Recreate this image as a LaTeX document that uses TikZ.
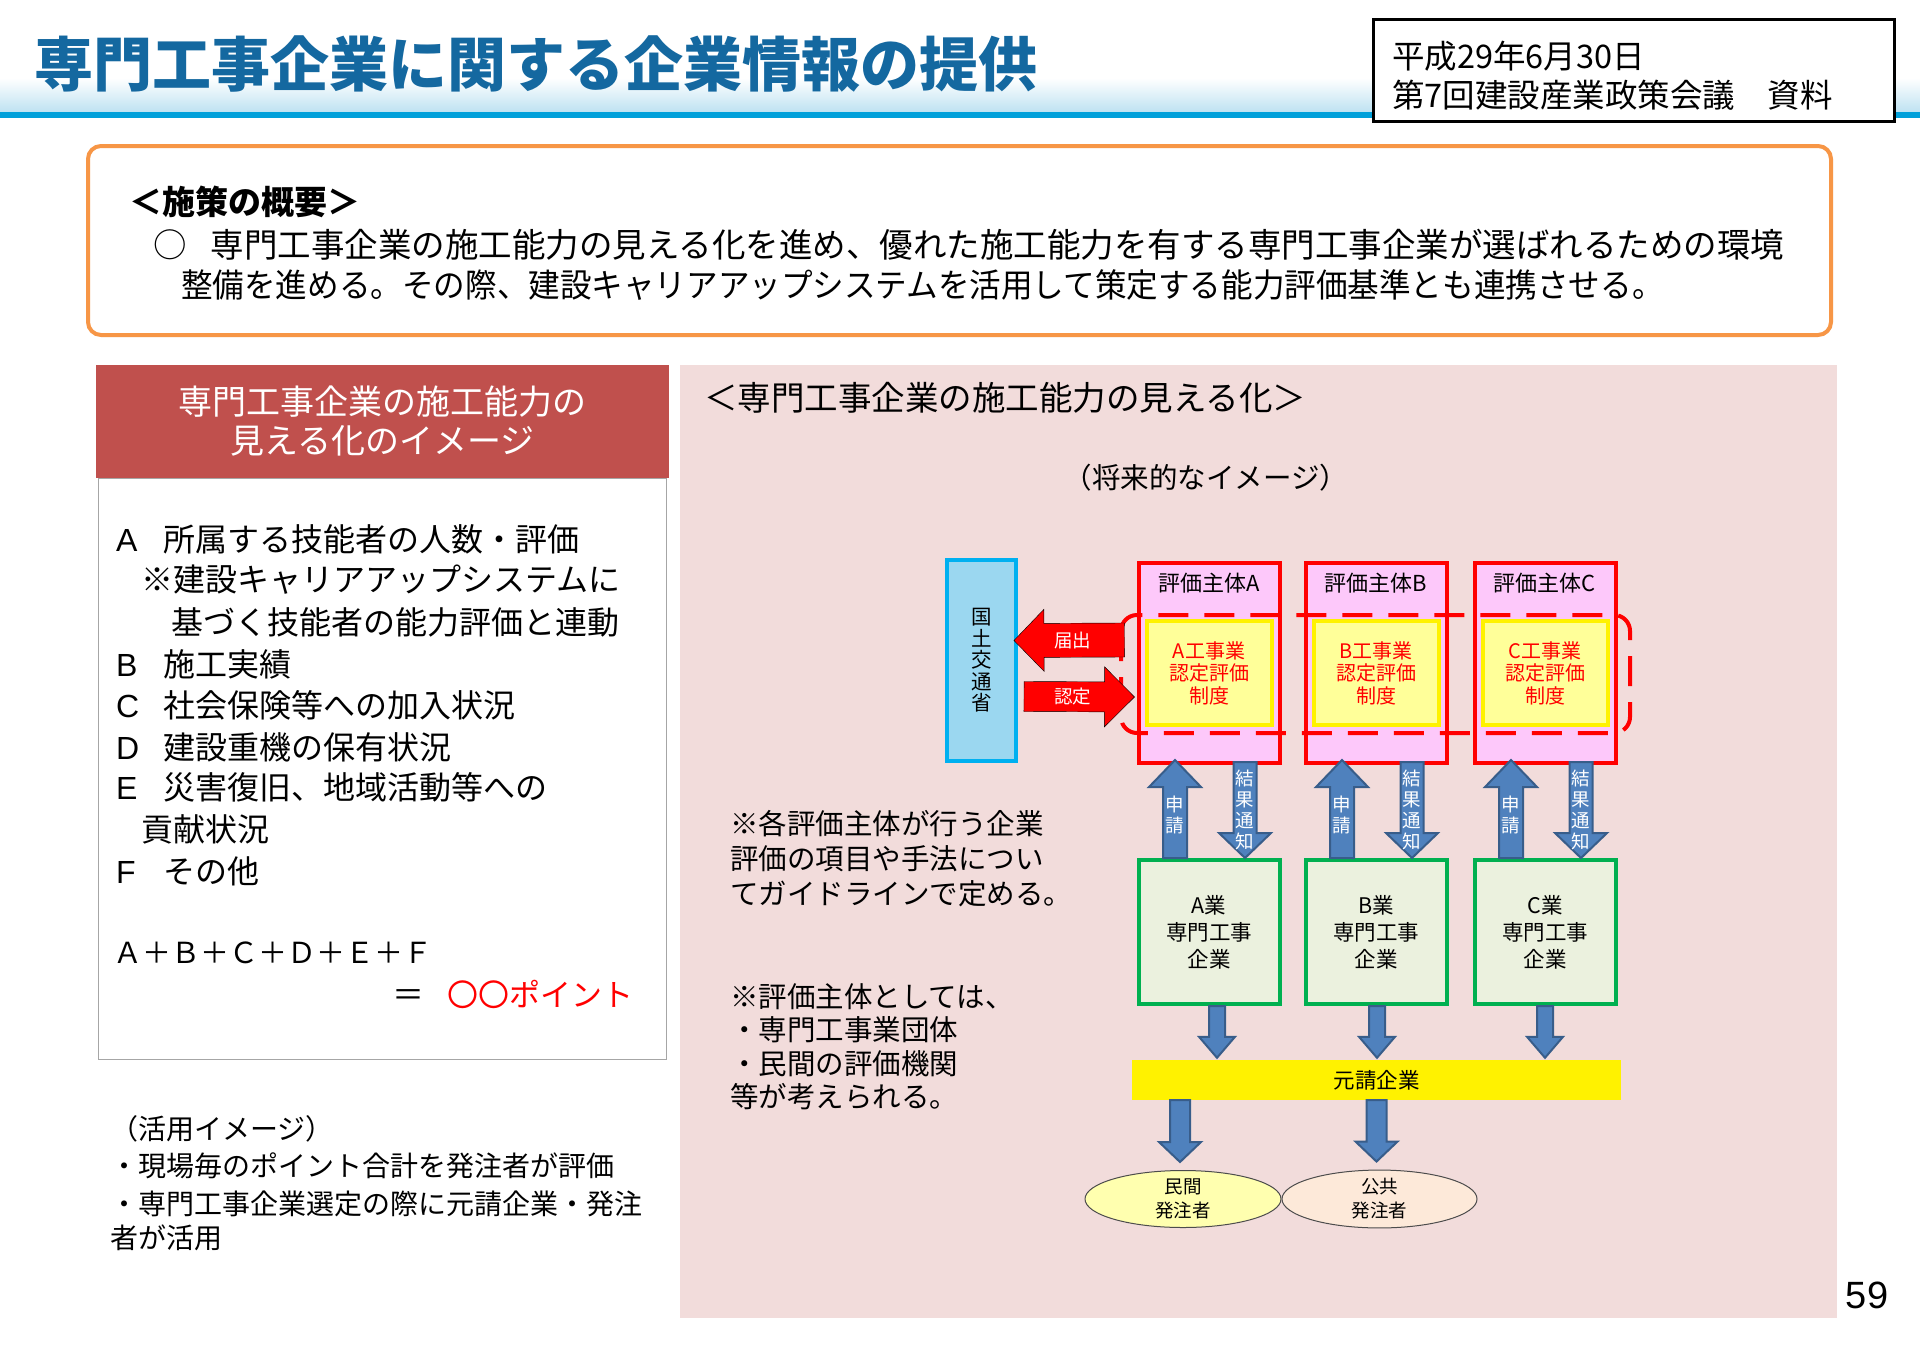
\documentclass[tikz,border=0pt]{standalone}
\usepackage{fontspec}
\setmainfont{Noto Sans CJK JP}
\newfontfamily\latinfont{Liberation Sans}
\usetikzlibrary{calc,shapes.geometric}

\definecolor{ttlblue}{RGB}{20,104,160}
\definecolor{bandblue}{RGB}{190,226,242}
\definecolor{stripeblue}{RGB}{0,160,218}
\definecolor{ornge}{RGB}{247,150,70}
\definecolor{hdred}{RGB}{192,80,77}
\definecolor{pnk}{RGB}{242,220,219}
\definecolor{evpink}{RGB}{253,200,250}
\definecolor{ylfill}{RGB}{255,255,153}
\definecolor{grline}{RGB}{0,176,80}
\definecolor{grfill}{RGB}{235,241,222}
\definecolor{arrfill}{RGB}{79,129,189}
\definecolor{arrline}{RGB}{56,93,138}
\definecolor{skyline}{RGB}{0,176,240}
\definecolor{skyfill}{RGB}{155,215,240}
\definecolor{minfill}{RGB}{255,255,175}
\definecolor{pubfill}{RGB}{253,233,217}

\begin{document}
\begin{tikzpicture}[x=1pt,y=-1pt,
  txt/.style={inner sep=0pt,anchor=west},
  item/.style={txt,font=\fontsize{32}{36}\selectfont},
  note/.style={txt,font=\fontsize{28.5}{32}\selectfont},
  evbox/.style={draw=red,line width=4pt,fill=evpink,minimum width=141pt,minimum height=200pt,inner sep=0pt},
  ybox/.style={draw=yellow,line width=4pt,fill=ylfill,minimum width=125pt,minimum height=104pt,inner sep=0pt,text=red,align=center,font=\fontsize{20}{22.5}\selectfont},
  gbox/.style={draw=grline,line width=4pt,fill=grfill,minimum width=141pt,minimum height=144pt,inner sep=0pt,align=center,font=\fontsize{21.5}{27}\selectfont},
  vlab/.style={inner sep=0pt,text=white,align=center,font=\fontsize{18.5}{21}\selectfont},
  blk/.style n args={3}{to path={($(\tikztostart)!#1!90:(\tikztotarget)$) -- ($(\tikztotarget)!#3!(\tikztostart)!#1!-90:(\tikztostart)$) -- ($(\tikztotarget)!#3!(\tikztostart)!#2!-90:(\tikztostart)$) -- (\tikztotarget) -- ($(\tikztotarget)!#3!(\tikztostart)!#2!90:(\tikztostart)$) -- ($(\tikztotarget)!#3!(\tikztostart)!#1!90:(\tikztostart)$) -- ($(\tikztostart)!#1!-90:(\tikztotarget)$) -- cycle}},
  barrow/.style={fill=arrfill,draw=arrline,line width=2pt},
  rarrow/.style={fill=red},
]
\fill[white] (0,0) rectangle (1920,1357);
\useasboundingbox (0,0) rectangle (1920,1357);

% title band
\shade[top color=white,bottom color=bandblue] (0,78) rectangle (1920,112);
\fill[stripeblue] (0,112) rectangle (1920,118);
\node[txt,text=ttlblue,font=\bfseries\fontsize{59}{60}\selectfont] (ttl) at (34,64) {専門工事企業に関する企業情報の提供};
\node[draw,line width=3pt,fill=white,minimum width=521pt,minimum height=102pt,inner sep=0pt] (dt) at (1633.5,70.5) {};
\node[txt,font=\fontsize{32.5}{33}\selectfont] (dt1) at (1392,56) {平成29年6月30日};
\node[txt,font=\fontsize{32.5}{33}\selectfont] (dt2) at (1392,95) {第7回建設産業政策会議　資料};

% outline
\draw[ornge,line width=4pt,rounded corners=13pt] (88,146) rectangle (1831,335);
\node[txt,font=\bfseries\fontsize{33}{34}\selectfont] (ov1) at (129,202) {＜施策の概要＞};
\node[txt,font=\fontsize{33.5}{34}\selectfont] (ov2) at (153,245) {○\hspace{24pt}専門工事企業の施工能力の見える化を進め、優れた施工能力を有する専門工事企業が選ばれるための環境};
\node[txt,font=\fontsize{33}{34}\selectfont] (ov3) at (181,285) {\scalebox{0.957}[1]{整備を進める。その際、建設キャリアアップシステムを活用して策定する能力評価基準とも連携させる。}};

% left panel
\node[draw=gray!70,line width=1pt,fill=white,minimum width=568pt,minimum height=581pt,inner sep=0pt] (lst) at (382,768.5) {};
\node[fill=hdred,minimum width=573pt,minimum height=113pt,inner sep=0pt,text=white,align=center,font=\fontsize{34}{39}\selectfont] (hd) at (382.5,421.5) {専門工事企業の施工能力の\\見える化のイメージ};
\foreach \y/\l/\t [count=\i] in {539/A/所属する技能者の人数・評価, 664/B/施工実績, 705/C/社会保険等への加入状況, 747/D/建設重機の保有状況, 787/E/災害復旧、地域活動等への, 871/F/その他}
  \node[item] (it\i) at (116,\y) {\makebox[47pt][l]{\latinfont\l}\t};
\foreach \x/\y/\t [count=\i] in {141/580/※建設キャリアアップシステムに, 171/622/基づく技能者の能力評価と連動, 141/829/貢献状況}
  \node[item] (ct\i) at (\x,\y) {\t};
\node[item,font=\fontsize{29}{30}\selectfont] (sum) at (113,953) {Ａ＋Ｂ＋Ｃ＋Ｄ＋Ｅ＋Ｆ};
\node[item] (pts) at (392,994) {\makebox[55pt][l]{＝}\textcolor{red}{\fontsize{31}{32}\selectfont 〇〇ポイント}};
\foreach \y/\t [count=\i] in {1129/（活用イメージ）, 1166/・現場毎のポイント合計を発注者が評価, 1204/・専門工事企業選定の際に元請企業・発注, 1238/者が活用}
  \node[txt,font=\fontsize{28}{30}\selectfont] (use\i) at (110,\y) {\t};

% right panel
\fill[pnk] (680,365) rectangle (1837,1318);
\node[txt,font=\fontsize{33.5}{34}\selectfont] (rh) at (704,398) {＜専門工事企業の施工能力の見える化＞};
\node[inner sep=0pt,font=\fontsize{28.5}{30}\selectfont] (fut) at (1206,478) {（将来的なイメージ）};
\foreach \y/\t [count=\i] in {824/※各評価主体が行う企業, 859/評価の項目や手法につい, 894/てガイドラインで定める。, 997/※評価主体としては、, 1030/・専門工事業団体, 1064/・民間の評価機関, 1097/等が考えられる。}
  \node[note] (nt\i) at (730,\y) {\t};

\node[draw=skyline,line width=4pt,fill=skyfill,minimum width=69pt,minimum height=201pt,inner sep=0pt,align=center,font=\fontsize{20.5}{21.5}\selectfont] (mlit) at (981.5,660.5) {国\\土\\交\\通\\省};

\foreach \col/\x in {A/1209,B/1376,C/1545} {
  \node[evbox] (r\col) at (\x,663) {};
  \node[inner sep=0pt,font=\fontsize{22}{22}\selectfont] (h\col) at (\x,583) {評価主体\col};
  \node[ybox] (y\col) at (\x,673) {\col{}工事業\\認定評価\\制度};
  \node[gbox] (g\col) at (\x,932) {\col{}業\\専門工事\\企業};
}
\draw[red,line width=4pt,dash pattern=on 30pt off 16pt,rounded corners=16pt] (1121,615) rectangle (1630,733);

% red arrows
\coordinate (rs1) at ($(rA.west)+(-12,-23)$);
\coordinate (rt1) at ($(mlit.east)+(-4,-20)$);
\coordinate (rs2) at ($(mlit.east)+(6,36)$);
\coordinate (rt2) at ($(rA.west)+(-2,34)$);
\draw[rarrow,blk={17pt}{31pt}{30pt}] (rs1) to (rt1);
\draw[rarrow,blk={15pt}{30pt}{30pt}] (rs2) to (rt2);
\node[vlab] (lb1) at ($(rs1)!0.47!(rt1)$) {届出};
\node[vlab] (lb2) at ($(rs2)!0.44!(rt2)$) {認定};

% blue arrows
\foreach \col in {A,B,C} {
  \coordinate (su\col) at ($(g\col.north)+(-34,0)$);
  \coordinate (tu\col) at ($(r\col.south)+(-34,-5)$);
  \coordinate (sd\col) at ($(r\col.south)+(36,-3)$);
  \coordinate (td\col) at ($(g\col.north)+(36,0)$);
  \draw[barrow,blk={12pt}{26pt}{27pt}] (su\col) to (tu\col);
  \draw[barrow,blk={11.5pt}{26pt}{25pt}] (sd\col) to (td\col);
  \node[vlab] (ls\col) at ($(su\col)!0.44!(tu\col)$) {申\\請};
  \node[vlab] (lr\col) at ($(sd\col)!0.5!(td\col)$) {結\\果\\通\\知};
}

\node[fill=yellow,minimum width=489pt,minimum height=40pt,inner sep=0pt,font=\fontsize{21.5}{22}\selectfont] (mk) at (1376.5,1080) {元請企業};
\foreach \col/\d in {A/8,B/1,C/0} {
  \coordinate (sb\col) at ($(g\col.south)+(\d,0)$);
  \coordinate (tb\col) at ($(g\col.south |- mk.north)+(\d,-2)$);
  \draw[barrow,blk={8pt}{18pt}{21pt}] (sb\col) to (tb\col);
}

\node[ellipse,draw=black!70,line width=1pt,fill=minfill,minimum width=196pt,minimum height=48pt,inner sep=0pt,align=center,font=\fontsize{18.5}{24}\selectfont] (e1) at (1183,1199) {民間\\発注者};
\node[ellipse,draw=black!70,line width=1pt,fill=pubfill,minimum width=195pt,minimum height=48pt,inner sep=0pt,align=center,font=\fontsize{18.5}{24}\selectfont] (e2) at (1379.5,1199) {公共\\発注者};
\coordinate (sm1) at ($(mk.south -| e1.north)+(-3,0)$);
\coordinate (tm1) at ($(e1.north)+(-3,-8)$);
\coordinate (sm2) at ($(mk.south -| e2.north)+(-3,0)$);
\coordinate (tm2) at ($(e2.north)+(-3,-8)$);
\draw[barrow,blk={10pt}{21pt}{20pt}] (sm1) to (tm1);
\draw[barrow,blk={10pt}{21pt}{20pt}] (sm2) to (tm2);

\node[inner sep=0pt,font=\latinfont\fontsize{38}{40}\selectfont] (pg) at (1867,1295) {59};
\end{tikzpicture}
\end{document}
